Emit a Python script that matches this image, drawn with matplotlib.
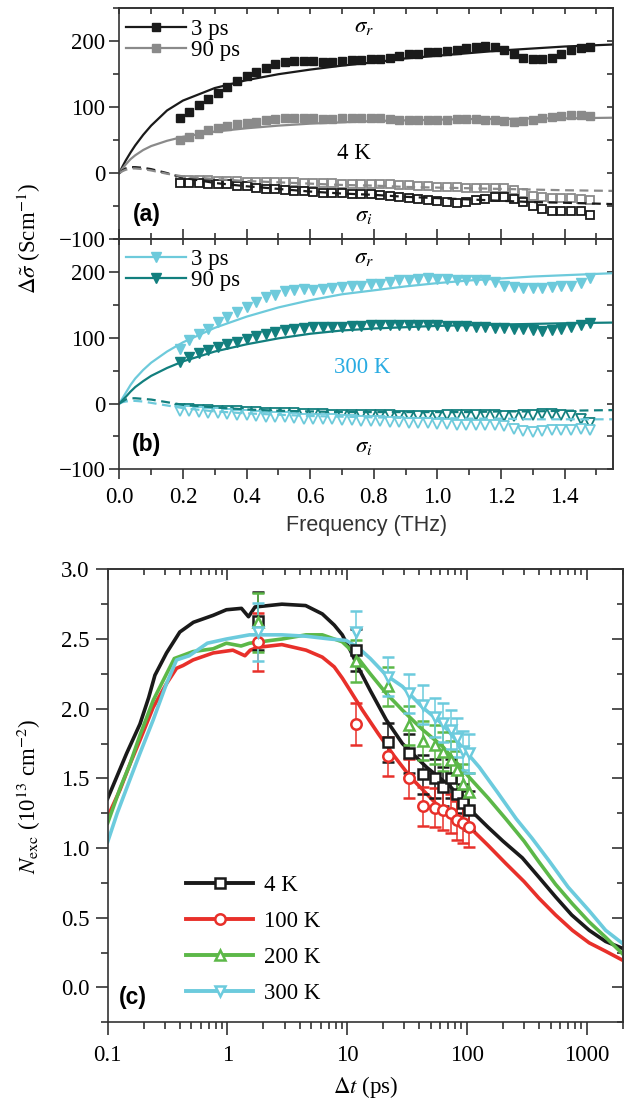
import numpy as np
import matplotlib
matplotlib.use('Agg')
import matplotlib.pyplot as plt
from matplotlib.lines import Line2D
from matplotlib.ticker import MultipleLocator, LogLocator, NullFormatter

plt.rcParams['font.family'] = ['Liberation Serif', 'DejaVu Serif']
plt.rcParams['mathtext.fontset'] = 'stix'
plt.rcParams['axes.unicode_minus'] = True

######## DATA ##################################################################
# THz conductivity, panels (a) 4 K and (b) 300 K
freq = [0.19, 0.22, 0.25, 0.28, 0.31, 0.34, 0.37, 0.40, 0.43, 0.46, 0.49, 0.52,
        0.55, 0.58, 0.61, 0.64, 0.67, 0.70, 0.73, 0.76, 0.79, 0.82, 0.85, 0.88,
        0.91, 0.94, 0.97, 1.00, 1.03, 1.06, 1.09, 1.12, 1.15, 1.18, 1.21, 1.24,
        1.27, 1.30, 1.33, 1.36, 1.39, 1.42, 1.45, 1.48]

aSr3ps = [84, 93, 103, 112, 122, 130, 139, 147, 154, 160, 165, 169, 170, 170, 170,
          169, 169, 170, 171, 172, 173, 173, 175, 177, 180, 181, 183, 184, 185, 186,
          189, 192, 193, 191, 186, 180, 175, 173, 173, 175, 181, 186, 190, 191]
aSr90ps = [50, 55, 60, 65, 68, 72, 74, 76, 78, 80, 82, 83, 84, 84, 83, 82, 82, 83,
           84, 84, 84, 83, 82, 81, 81, 80, 80, 80, 81, 82, 82, 82, 81, 80, 79, 78,
           79, 81, 83, 85, 87, 88, 88, 87]
aSi3ps = [-15, -15, -15, -16, -17, -17, -19, -20, -22, -24, -24, -25, -27, -27, -28,
          -30, -30, -30, -31, -32, -32, -33, -35, -37, -38, -40, -41, -42, -44, -45,
          -44, -41, -39, -37, -37, -39, -44, -50, -54, -57, -57, -57, -58, -64]
aSi90ps = [-10, -10, -11, -11, -12, -12, -12, -13, -13, -13, -14, -14, -14, -15, -15,
           -15, -15, -16, -16, -17, -17, -17, -17, -18, -18, -19, -20, -21, -21, -21,
           -22, -22, -22, -22, -23, -26, -30, -34, -37, -38, -38, -38, -39, -41]

bSr3ps = [83, 96, 106, 113, 124, 131, 139, 146, 154, 162, 165, 171, 173, 174, 173,
          174, 175, 177, 178, 179, 181, 182, 184, 187, 188, 189, 190, 189, 189, 188,
          188, 188, 187, 184, 179, 177, 176, 175, 176, 177, 178, 179, 183, 191]
bSr90ps = [63, 71, 77, 81, 86, 90, 94, 98, 102, 106, 109, 111, 114, 115, 116, 116,
           117, 117, 118, 118, 119, 120, 120, 120, 120, 120, 119, 119, 118, 118, 118,
           117, 116, 115, 115, 114, 113, 111, 110, 111, 114, 117, 120, 123]
bSi3ps = [-11, -12, -13, -14, -15, -16, -17, -18, -19, -20, -21, -21, -22, -23, -23,
          -24, -24, -25, -25, -26, -26, -27, -28, -28, -29, -30, -30, -31, -31, -32,
          -32, -32, -32, -33, -34, -38, -42, -43, -42, -41, -40, -40, -39, -40]
bSi90ps = [-8, -9, -10, -10, -11, -12, -12, -13, -13, -14, -14, -15, -15, -16, -16,
           -16, -17, -17, -17, -18, -18, -18, -18, -19, -19, -19, -19, -19, -18, -18,
           -18, -17, -17, -18, -19, -19, -18, -17, -16, -16, -17, -19, -23, -29]

# model fits
fitF = [0, 0.01, 0.02, 0.035, 0.05, 0.075, 0.1, 0.15, 0.2, 0.3, 0.4, 0.5, 0.6,
        0.7, 0.8, 0.9, 1.0, 1.1, 1.2, 1.3, 1.4, 1.55]
aFitR3ps = [0, 10, 19, 31, 42, 58, 72, 95, 110, 129, 141, 150, 157, 163, 168, 174,
            178, 182, 186, 189, 192, 195]
aFitR90ps = [0, 7, 13, 21, 27, 35, 41, 49, 55, 63, 68, 72, 75, 77, 79, 80, 81, 82,
             82, 83, 83, 84]
aFitI3ps = [0, 4, 7, 9, 9, 8, 6, 0, -7, -15, -20, -24, -28, -31, -33, -36, -38,
            -40, -42, -44, -45, -47]
aFitI90ps = [0, 3, 5, 7, 7, 6, 4, -1, -5, -9, -12, -14, -16, -18, -19, -21, -22,
             -23, -24, -25, -26, -27]
bFitR3ps = [0, 8, 16, 28, 38, 51, 62, 79, 93, 115, 132, 146, 157, 166, 172, 178,
            183, 187, 190, 193, 195, 198]
bFitR90ps = [0, 5, 10, 18, 25, 34, 42, 54, 64, 79, 90, 99, 106, 111, 114, 116, 118,
             119, 120, 121, 122, 123]
bFitI3ps = [0, 2, 3, 4, 4, 3, 1, -3, -7, -12, -15, -17, -19, -20, -21, -22, -22,
            -23, -23, -24, -24, -24]
bFitI90ps = [0, 3, 6, 8, 8, 7, 6, 2, -2, -6, -9, -11, -12, -13, -13, -13, -13, -13,
             -12, -12, -11, -10]

# panel (c): exciton density vs delay
t4K = [0.1, 0.144, 0.186, 0.22, 0.248, 0.31, 0.4, 0.52, 0.76, 0.98, 1.31, 1.5, 1.7,
       2.85, 4.5, 6.2, 7.8, 9.1, 10.6, 12.3, 15.6, 21.2, 28.9, 46, 73, 108, 150,
       200, 290, 400, 550, 750, 1050, 1440, 2000]
n4K = [1.356, 1.68, 1.89, 2.08, 2.24, 2.40, 2.55, 2.62, 2.67, 2.71, 2.72, 2.66, 2.73,
       2.75, 2.74, 2.68, 2.60, 2.53, 2.42, 2.30, 2.13, 1.92, 1.75, 1.58, 1.44, 1.27,
       1.15, 1.05, 0.93, 0.79, 0.65, 0.52, 0.41, 0.33, 0.28]
t100K = [0.1, 0.127, 0.153, 0.186, 0.24, 0.31, 0.376, 0.426, 0.517, 0.76, 1.11, 1.4,
         1.55, 1.78, 2.85, 4.54, 6.2, 7.8, 9.1, 10.6, 13.4, 18.2, 24.7, 33.7, 46, 62.5,
         85, 111, 150, 211, 300, 400, 550, 760, 1050, 1440, 2000]
n100K = [1.224, 1.42, 1.6, 1.774, 2.01, 2.18, 2.29, 2.31, 2.35, 2.40, 2.42, 2.38,
         2.42, 2.44, 2.46, 2.42, 2.37, 2.30, 2.22, 2.13, 1.99, 1.82, 1.66, 1.51, 1.39,
         1.27, 1.20, 1.13, 1.02, 0.89, 0.76, 0.64, 0.52, 0.41, 0.32, 0.26, 0.195]
t200K = [0.1, 0.127, 0.153, 0.186, 0.24, 0.31, 0.36, 0.517, 0.76, 0.98, 1.3, 1.53,
         2.85, 4.54, 6.2, 9.1, 11.4, 15.6, 21.2, 28.9, 42.6, 62.5, 104, 150, 211, 300,
         400, 550, 760, 1050, 1440, 2000]
n200K = [1.18, 1.43, 1.6, 1.81, 2.06, 2.25, 2.36, 2.41, 2.43, 2.47, 2.45, 2.47, 2.50,
         2.53, 2.53, 2.48, 2.40, 2.25, 2.11, 1.99, 1.85, 1.73, 1.51, 1.36, 1.21, 1.05,
         0.90, 0.74, 0.60, 0.47, 0.36, 0.24]
t300K = [0.1, 0.12, 0.15, 0.186, 0.24, 0.31, 0.376, 0.48, 0.68, 0.98, 1.53, 2.85,
         4.54, 7.2, 9.8, 12.3, 15.6, 21.2, 28.9, 42.6, 62.5, 92, 127, 180, 258, 350,
         484, 700, 1050, 1440, 2000]
n300K = [1.045, 1.25, 1.47, 1.68, 1.92, 2.18, 2.35, 2.38, 2.47, 2.50, 2.53, 2.53,
         2.52, 2.50, 2.49, 2.44, 2.36, 2.24, 2.16, 2.01, 1.89, 1.72, 1.58, 1.40, 1.21,
         1.07, 0.91, 0.72, 0.55, 0.41, 0.315]

mkT = [1.8, 11.9, 22, 33, 43, 54, 63, 73, 83, 93, 104]
mk4K = [2.63, 2.42, 1.76, 1.68, 1.53, 1.50, 1.44, 1.50, 1.39, 1.32, 1.27]
mk100K = [2.48, 1.89, 1.66, 1.50, 1.30, 1.29, 1.27, 1.25, 1.20, 1.18, 1.15]
mk200K = [2.62, 2.34, 2.16, 1.88, 1.77, 1.74, 1.69, 1.63, 1.56, 1.46, 1.40]
mk300K = [2.55, 2.55, 2.23, 2.11, 2.03, 1.94, 1.90, 1.85, 1.79, 1.70, 1.68]
mkErr = [0.21, 0.15, 0.14, 0.14, 0.14, 0.14, 0.14, 0.14, 0.14, 0.14, 0.14]
################################################################################

FS = 16.5
SPINE = '#333333'
BLACK, GRAY = '#1a1a1a', '#8a8a8a'
LCYAN, TEAL = '#6dcadb', '#127f7e'
cRed, cGreen, cCyan = '#e8302a', '#5cb848', '#6ccbdd'


def styleAxes(ax, xmaj, xmin, ymaj, ymin, bottomIn=False, log=False,
              lenOut=(7, 4.5), lenIn=(4.5, 4.5), pad=3):
    for sp in ax.spines.values():
        sp.set_linewidth(1.2)
        sp.set_color(SPINE)
    if not log:
        ax.xaxis.set_major_locator(MultipleLocator(xmaj))
        ax.xaxis.set_minor_locator(MultipleLocator(xmin))
    ax.yaxis.set_major_locator(MultipleLocator(ymaj))
    ax.yaxis.set_minor_locator(MultipleLocator(ymin))
    ax.tick_params(axis='y', which='both', direction='out', left=True, right=False,
                   labelsize=FS, width=1.2, color=SPINE, pad=pad)
    ax.tick_params(axis='x', which='both', direction='in' if bottomIn else 'out',
                   top=False, bottom=True, labelsize=FS, width=1.2, color=SPINE, pad=pad + 3)
    ax.tick_params(which='major', length=lenOut[0])
    ax.tick_params(which='minor', length=lenOut[1])
    # inward ticks on top and right
    top = ax.secondary_xaxis('top')
    right = ax.secondary_yaxis('right')
    if log:
        top.xaxis.set_major_locator(LogLocator(10))
        top.xaxis.set_minor_locator(LogLocator(10, subs=np.arange(2, 10)))
        top.xaxis.set_minor_formatter(NullFormatter())
    else:
        top.xaxis.set_major_locator(MultipleLocator(xmaj))
        top.xaxis.set_minor_locator(MultipleLocator(xmin))
    right.yaxis.set_major_locator(MultipleLocator(ymaj))
    right.yaxis.set_minor_locator(MultipleLocator(ymin))
    for sec in (top, right):
        sec.tick_params(which='both', direction='in', width=1.2, color=SPINE,
                        labeltop=False, labelright=False)
        sec.tick_params(which='major', length=lenIn[0])
        sec.tick_params(which='minor', length=lenIn[1])
        for sp in sec.spines.values():
            sp.set_linewidth(1.2)
            sp.set_color(SPINE)


def conductivityPanel(ax, sr3, sr90, si3, si90, fr3, fr90, fi3, fi90, c3, c90, mk, ms):
    ax.plot(freq, sr90, ls='none', marker=mk, ms=ms, color=c90, mec=c90)
    ax.plot(freq, sr3, ls='none', marker=mk, ms=ms, color=c3, mec=c3)
    ax.plot(freq, si90, ls='none', marker=mk, ms=ms, mfc='white', mec=c90, mew=1.3)
    ax.plot(freq, si3, ls='none', marker=mk, ms=ms, mfc='white', mec=c3, mew=1.3)
    ax.plot(fitF, fr3, color=c3, lw=1.6)
    ax.plot(fitF, fr90, color=c90, lw=1.6)
    ax.plot(fitF, fi3, color=c3, lw=1.6, ls=(0, (4, 2.5)))
    ax.plot(fitF, fi90, color=c90, lw=1.6, ls=(0, (4, 2.5)))
    ax.set_xlim(0, 1.553)
    ax.set_ylim(-100, 250)
    handles = [Line2D([], [], color=c3, lw=1.6, marker=mk, ms=ms),
               Line2D([], [], color=c90, lw=1.6, marker=mk, ms=ms)]
    ax.legend(handles, ['3 ps', '90 ps'], loc='upper left', bbox_to_anchor=(-0.005, 0.995),
              frameon=False, fontsize=FS, handlelength=2.6, handletextpad=0.25,
              labelspacing=0.0, borderaxespad=0)
    ax.text(0.77, 222, r'$\sigma_r$', fontsize=FS, ha='center', va='center')
    ax.text(0.77, -65, r'$\sigma_i$', fontsize=FS, ha='center', va='center')


fig = plt.figure(figsize=(6.29, 11.04), dpi=100)
axA = fig.add_axes([0.1897, 0.7835, 0.7854, 0.209])
axB = fig.add_axes([0.1897, 0.5749, 0.7854, 0.2086])
axC = fig.add_axes([0.1712, 0.074, 0.8188, 0.4103])

conductivityPanel(axA, aSr3ps, aSr90ps, aSi3ps, aSi90ps, aFitR3ps, aFitR90ps,
                  aFitI3ps, aFitI90ps, BLACK, GRAY, 's', 5.5)
conductivityPanel(axB, bSr3ps, bSr90ps, bSi3ps, bSi90ps, bFitR3ps, bFitR90ps,
                  bFitI3ps, bFitI90ps, LCYAN, TEAL, 'v', 7)
styleAxes(axA, 0.2, 0.1, 100, 50, bottomIn=True)
styleAxes(axB, 0.2, 0.1, 100, 50)
axA.tick_params(axis='x', labelbottom=False)
axB.xaxis.set_major_formatter(matplotlib.ticker.FormatStrFormatter('%.1f'))

axA.text(0.737, 30, '4 K', fontsize=FS, ha='center', va='center')
axB.text(0.765, 55, '300 K', fontsize=FS, ha='center', va='center', color='#29abe2')
axA.text(0.085, -63, '(a)', fontsize=FS, ha='center', va='center',
         family='Liberation Sans', weight='bold')
axB.text(0.085, -63, '(b)', fontsize=FS, ha='center', va='center',
         family='Liberation Sans', weight='bold')

fig.text(0.046, 1 - 239 / 1104, r'$\Delta\tilde{\sigma}$ (Scm$^{-1}$)', rotation=90,
         fontsize=FS, ha='center', va='center')
fig.text((119.3 + 613.3) / 2 / 629, 1 - 526 / 1104, 'Frequency (THz)', fontsize=FS - 1,
         ha='center', va='center', family='Liberation Sans', color='#333333')

# panel (c)
for t, n, c in [(t4K, n4K, BLACK), (t100K, n100K, cRed), (t200K, n200K, cGreen),
                (t300K, n300K, cCyan)]:
    axC.plot(t, n, color=c, lw=2.6, solid_joinstyle='round')
for vals, c, mk in [(mk4K, BLACK, 's'), (mk100K, cRed, 'o'), (mk200K, cGreen, '^'),
                    (mk300K, cCyan, 'v')]:
    axC.errorbar(mkT, vals, yerr=mkErr, fmt=mk, ms=7.5, mfc='white', mec=c, mew=1.8,
                 ecolor=c, elinewidth=1.1, capsize=4, capthick=1.1, zorder=3)
axC.set_xscale('log')
axC.set_xlim(0.1, 2000)
axC.set_ylim(-0.25, 3.0)
styleAxes(axC, None, None, 0.5, 0.25, log=True, lenOut=(9, 5), lenIn=(8, 4.5), pad=4)
axC.xaxis.set_major_formatter(matplotlib.ticker.FuncFormatter(lambda v, p: '%g' % v))
axC.yaxis.set_major_formatter(matplotlib.ticker.FormatStrFormatter('%.1f'))

legHandles = [Line2D([], [], color=c, lw=2.8, marker=mk, ms=7.5, mfc='white', mec=c, mew=1.8)
              for c, mk in [(BLACK, 's'), (cRed, 'o'), (cGreen, '^'), (cCyan, 'v')]]
axC.legend(legHandles, ['4 K', '100 K', '200 K', '300 K'], loc='lower left',
           bbox_to_anchor=(0.135, 0.02), frameon=False, fontsize=FS, handlelength=2.9,
           handletextpad=0.5, labelspacing=0.65, borderaxespad=0)
axC.text(0.049, 0.054, '(c)', transform=axC.transAxes, fontsize=FS, ha='center',
         va='center', family='Liberation Sans', weight='bold')

fig.text(0.046, 1 - 796 / 1104, r'$N_{\rm exc}$ (10$^{13}$ cm$^{-2}$)', rotation=90,
         fontsize=FS, ha='center', va='center')
fig.text((107.7 + 622.7) / 2 / 629, 1 - 1087 / 1104, r'$\Delta t$ (ps)', fontsize=FS,
         ha='center', va='center')

fig.savefig('out.png', dpi=100)
